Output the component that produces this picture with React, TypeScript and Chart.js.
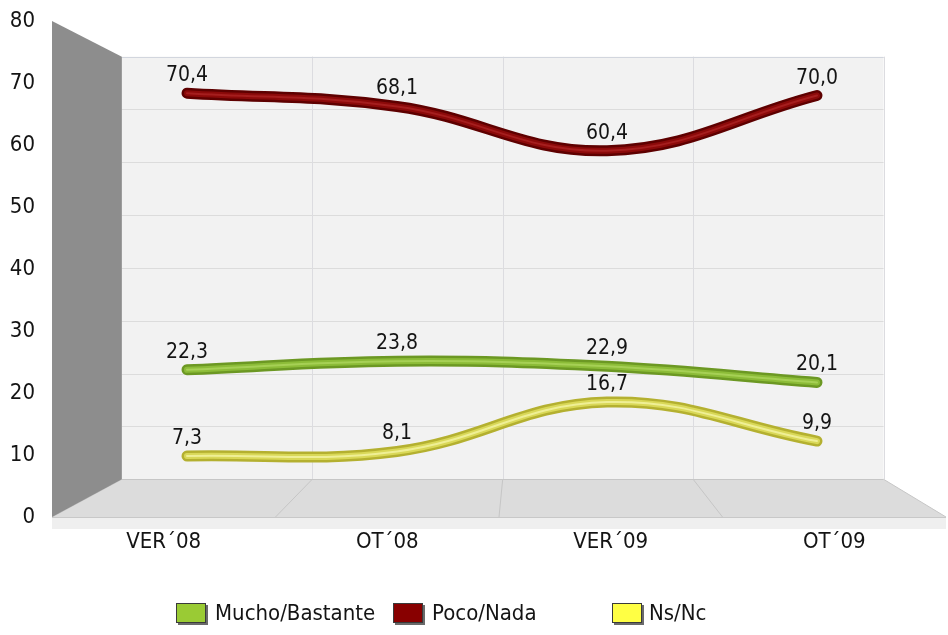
import React, { useEffect, useRef } from "react";
import { Chart, registerables } from "chart.js";

Chart.register(...registerables);

// ---------- data ----------
const categories = ["VER´08", "OT´08", "VER´09", "OT´09"];
const muchoBastante = [22.3, 23.8, 22.9, 20.1];
const pocoNada = [70.4, 68.1, 60.4, 70.0];
const nsNc = [7.3, 8.1, 16.7, 9.9];
const seriesNames = ["Mucho/Bastante", "Poco/Nada", "Ns/Nc"];
const yMin = 0;
const yMax = 80;
const yStep = 10;

// ---------- style ----------
const FONT = '"DejaVu Sans Condensed", "DejaVu Sans", sans-serif';
const TEXT = "#141414";
const DEPTH = 0.852; // scale of back plane relative to front plane
const VX = 524;
const VY = 262;

const seriesStyles = [
  { outer: "#6c9823", inner: "#8cbc38", hi: "#a6d055", legend: "#9acb34" },
  { outer: "#5e0000", inner: "#8c0a0a", hi: "#a51e1e", legend: "#880000" },
  { outer: "#b4b030", inner: "#d9d858", hi: "#efef95", legend: "#ffff44" },
];

const fmt = (v: number) => v.toFixed(1).replace(".", ",");
const toPts = (vals: number[]) => vals.map((v, i) => ({ x: i, y: v }));

const bk = (x: number, y: number): [number, number] => [
  VX + (x - VX) * DEPTH,
  VY + (y - VY) * DEPTH,
];

const scenePlugin = {
  id: "scene3d",
  beforeDraw(chart: any) {
    const { ctx, chartArea } = chart;
    const ys = chart.scales.y;
    const xs = chart.scales.x;
    const L = chartArea.left;
    const R = chartArea.right;
    const T = ys.getPixelForValue(yMax);
    const B = ys.getPixelForValue(yMin);
    const [bl, bt] = bk(L, T);
    const [br, bb] = bk(R, B);
    ctx.save();
    // back wall
    ctx.fillStyle = "#f2f2f2";
    ctx.fillRect(bl, bt, br - bl, bb - bt);
    // horizontal grid on back wall
    ctx.strokeStyle = "#dcdcdc";
    ctx.lineWidth = 1;
    for (let v = yMin + yStep; v <= yMax; v += yStep) {
      const y = bk(L, ys.getPixelForValue(v))[1];
      ctx.beginPath();
      ctx.moveTo(bl, Math.round(y) + 0.5);
      ctx.lineTo(br, Math.round(y) + 0.5);
      ctx.stroke();
    }
    // vertical grid (category boundaries)
    const band = (R - L) / categories.length;
    const bounds: number[] = [];
    for (let i = 0; i <= categories.length; i++) {
      bounds.push(xs.getPixelForValue(0) - band / 2 + i * band);
    }
    ctx.strokeStyle = "#dcdce0";
    bounds.forEach((fx, i) => {
      if (i === 0) return;
      const x = bk(fx, B)[0];
      ctx.beginPath();
      ctx.moveTo(Math.round(x) + 0.5, bt);
      ctx.lineTo(Math.round(x) + 0.5, bb);
      ctx.stroke();
    });
    // back wall top border
    ctx.strokeStyle = "#d2d6de";
    ctx.beginPath();
    ctx.moveTo(bl, Math.round(bt) + 0.5);
    ctx.lineTo(br, Math.round(bt) + 0.5);
    ctx.stroke();
    // floor
    ctx.fillStyle = "#dcdcdc";
    ctx.beginPath();
    ctx.moveTo(L, B);
    ctx.lineTo(R, B);
    ctx.lineTo(br, bb);
    ctx.lineTo(bl, bb);
    ctx.closePath();
    ctx.fill();
    ctx.strokeStyle = "#c6c6c6";
    bounds.forEach((fx) => {
      const bx = bk(fx, B)[0];
      ctx.beginPath();
      ctx.moveTo(bx, bb);
      ctx.lineTo(fx, B);
      ctx.stroke();
    });
    ctx.beginPath();
    ctx.moveTo(bl, Math.round(bb) + 0.5);
    ctx.lineTo(br, Math.round(bb) + 0.5);
    ctx.stroke();
    // front edge of floor
    ctx.fillStyle = "#efefef";
    ctx.fillRect(L, B, R - L, 12);
    ctx.strokeStyle = "#c8c8c8";
    ctx.beginPath();
    ctx.moveTo(L, Math.round(B) + 0.5);
    ctx.lineTo(R, Math.round(B) + 0.5);
    ctx.stroke();
    // left wall
    ctx.fillStyle = "#8d8d8d";
    ctx.beginPath();
    ctx.moveTo(L, T);
    ctx.lineTo(bl, bt);
    ctx.lineTo(bl, bb);
    ctx.lineTo(L, B);
    ctx.closePath();
    ctx.fill();
    ctx.restore();
  },
};

const labelPlugin = {
  id: "pointLabels",
  afterDatasetsDraw(chart: any) {
    const { ctx } = chart;
    ctx.save();
    ctx.font = `21px ${FONT}`;
    ctx.fillStyle = TEXT;
    ctx.textAlign = "center";
    ctx.textBaseline = "alphabetic";
    chart.data.datasets.forEach((ds: any, di: number) => {
      if (!ds.showValues) return;
      const meta = chart.getDatasetMeta(di);
      meta.data.forEach((el: any, i: number) => {
        ctx.fillText(fmt(ds.data[i].y), el.x, el.y - 12);
      });
    });
    ctx.restore();
  },
};

export default function App() {
  const ref = useRef<HTMLCanvasElement | null>(null);

  useEffect(() => {
    if (!ref.current) return;
    const allValues = [muchoBastante, pocoNada, nsNc];
    const datasets: any[] = [];
    allValues.forEach((vals, si) => {
      const st = seriesStyles[si];
      const common = {
        type: "line",
        xAxisID: "x2",
        yAxisID: "y2",
        tension: 0.4,
        pointRadius: 0,
        pointHoverRadius: 0,
        borderCapStyle: "round",
        borderJoinStyle: "round",
        fill: false,
      };
      datasets.push({
        ...common,
        label: seriesNames[si],
        data: toPts(vals),
        borderColor: st.outer,
        borderWidth: 11,
        order: 3,
        showValues: true,
      });
      datasets.push({
        ...common,
        label: seriesNames[si] + " ",
        data: toPts(vals),
        borderColor: st.inner,
        borderWidth: 6,
        order: 2,
      });
      datasets.push({
        ...common,
        label: seriesNames[si] + "  ",
        data: toPts(vals),
        borderColor: st.hi,
        borderWidth: 2,
        order: 1,
      });
    });

    const chart = new Chart(ref.current, {
      type: "line",
      data: { labels: categories, datasets },
      options: {
        animation: false,
        responsive: true,
        maintainAspectRatio: false,
        layout: { padding: { top: 21, right: 2, left: 0, bottom: 0 } },
        plugins: { legend: { display: false }, tooltip: { enabled: false } },
        events: [],
        scales: {
          x: {
            type: "category",
            offset: true,
            grid: { display: false, drawTicks: false },
            border: { display: false },
            ticks: {
              font: { family: FONT, size: 22 },
              color: TEXT,
              padding: 12,
              maxRotation: 0,
              autoSkip: false,
            },
            afterFit: (s: any) => {
              s.height = 118;
              s.paddingLeft = 0;
              s.paddingRight = 0;
            },
          },
          y: {
            type: "linear",
            min: yMin,
            max: yMax,
            grid: { display: false, drawTicks: false },
            border: { display: false },
            ticks: {
              stepSize: yStep,
              font: { family: FONT, size: 22 },
              color: TEXT,
              padding: 17,
            },
            afterFit: (s: any) => {
              s.width = 52;
              s.paddingTop = 0;
              s.paddingBottom = 0;
            },
          },
          x2: { type: "linear", display: false, min: -0.6429, max: 3.6143 },
          y2: { type: "linear", display: false, min: -3.3, max: 82.96 },
        },
      },
      plugins: [scenePlugin, labelPlugin],
    } as any);
    return () => chart.destroy();
  }, []);

  const legendItems = [
    { box: 176, text: 215 },
    { box: 393, text: 432 },
    { box: 612, text: 649 },
  ];

  return (
    <div
      style={{
        position: "absolute",
        left: 0,
        top: 0,
        width: 948,
        height: 635,
        background: "#ffffff",
        fontFamily: FONT,
      }}
    >
      <canvas ref={ref} />
      {legendItems.map((it, i) => (
        <React.Fragment key={i}>
          <div
            style={{
              position: "absolute",
              left: it.box,
              top: 603,
              width: 28,
              height: 18,
              background: seriesStyles[i].legend,
              border: "1px solid #3a3a3a",
              boxShadow: "2px 2px 0 #6a6a6a",
            }}
          />
          <div
            style={{
              position: "absolute",
              left: it.text,
              top: 599,
              fontSize: 22,
              lineHeight: "28px",
              color: TEXT,
              whiteSpace: "nowrap",
            }}
          >
            {seriesNames[i]}
          </div>
        </React.Fragment>
      ))}
    </div>
  );
}
